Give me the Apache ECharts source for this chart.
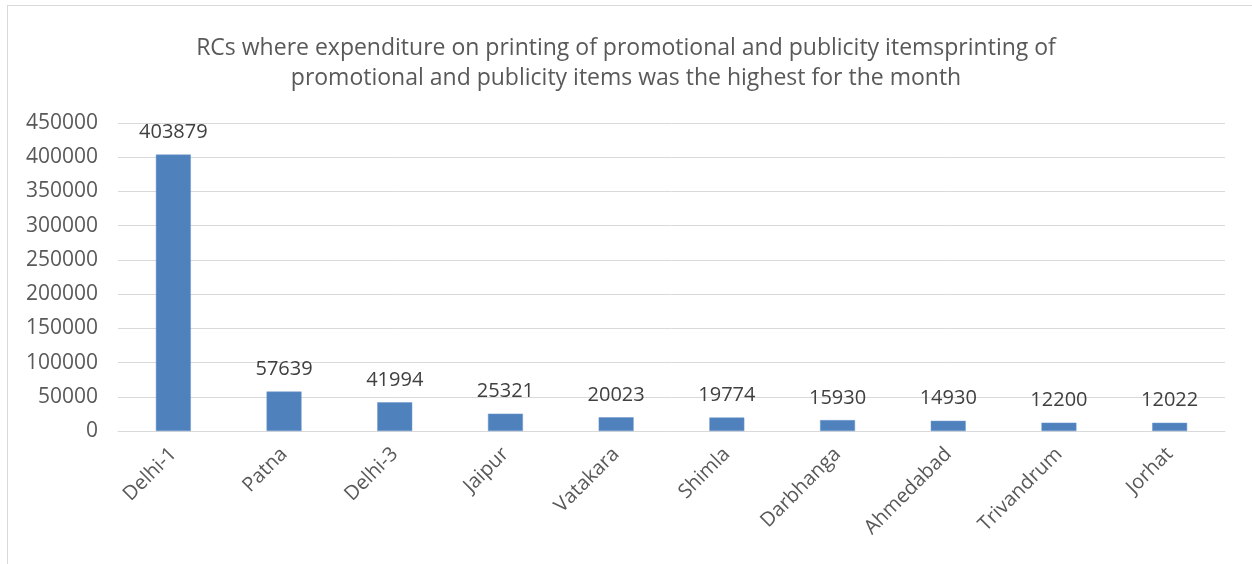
<!DOCTYPE html>
<html><head><meta charset="utf-8">
<script src="https://cdn.jsdelivr.net/npm/echarts@6/dist/echarts.min.js"></script>
<style>
html,body{margin:0;padding:0;background:#fff;}
#frame{position:absolute;left:7px;top:5px;width:1260px;height:580px;border:1px solid #d9d9d9;box-sizing:border-box;}
#c{position:absolute;left:0;top:0;width:1252px;height:564px;}
</style>
</head><body>
<div id="frame"></div>
<div id="c"></div>
<script>
const titleText = 'RCs where expenditure on printing of promotional and publicity itemsprinting of\npromotional and publicity items was the highest for the month';
const categories = ['Delhi-1','Patna','Delhi-3','Jaipur','Vatakara','Shimla','Darbhanga','Ahmedabad','Trivandrum','Jorhat'];
const values = [403879,57639,41994,25321,20023,19774,15930,14930,12200,12022];
const yTicks = [0,50000,100000,150000,200000,250000,300000,350000,400000,450000];

const font = "'Open Sans', 'Noto Sans', sans-serif";
const chart = echarts.init(document.getElementById('c'));
chart.setOption({
  animation:false,
  title:{text:titleText,left:'center',top:28,textStyle:{fontFamily:font,fontSize:23,fontWeight:'normal',color:'#595959',lineHeight:30}},
  grid:{left:118,right:27,top:123,bottom:133,containLabel:false},
  xAxis:{type:'category',data:categories,
    axisLine:{lineStyle:{color:'#d9d9d9',width:1}},axisTick:{show:false},
    axisLabel:{rotate:45,interval:0,fontFamily:font,fontSize:20,color:'#595959',margin:20}},
  yAxis:{type:'value',min:yTicks[0],max:yTicks[yTicks.length-1],interval:50000,
    axisLine:{show:false},axisTick:{show:false},
    splitLine:{lineStyle:{color:'#d9d9d9',width:1}},
    axisLabel:{fontFamily:font,fontSize:21,color:'#595959',margin:20,formatter:v=>String(v)}},
  series:[{type:'bar',data:values,barWidth:'31.6%',
    itemStyle:{color:'#4f81bd',borderColor:'#6f9bd1',borderWidth:0.5},
    label:{show:true,position:'top',distance:12,fontFamily:font,fontSize:20,color:'#404040'}}]
});
</script>
</body></html>
